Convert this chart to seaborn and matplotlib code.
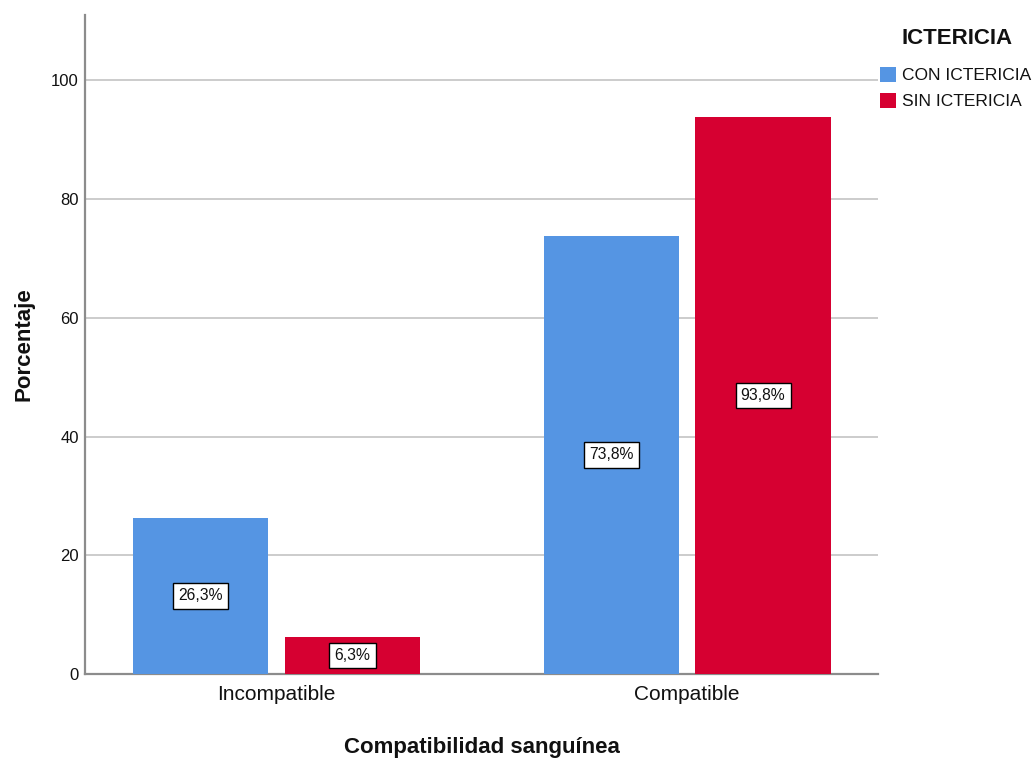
import matplotlib
matplotlib.use("Agg")
import matplotlib.pyplot as plt
import seaborn as sns
import pandas as pd

categories = ["Incompatible", "Compatible"]
groups = ["CON ICTERICIA", "SIN ICTERICIA"]
con_ictericia = [26.3, 73.8]
sin_ictericia = [6.3, 93.8]
label_con = ["26,3%", "73,8%"]
label_sin = ["6,3%", "93,8%"]
yticks = [0, 20, 40, 60, 80, 100]

df = pd.DataFrame({
    "Compatibilidad": categories * 2,
    "ICTERICIA": [groups[0]] * 2 + [groups[1]] * 2,
    "Porcentaje": con_ictericia + sin_ictericia,
})

sns.set_theme(style="white")
plt.rcParams["font.family"] = ["Liberation Sans", "DejaVu Sans"]
plt.rcParams["text.color"] = "#111111"
plt.rcParams["axes.labelcolor"] = "#111111"
plt.rcParams["xtick.color"] = "#111111"
plt.rcParams["ytick.color"] = "#111111"

fig = plt.figure(figsize=(10.35, 7.6), dpi=100)
ax = fig.add_axes([85 / 1035, 1 - 674 / 760, 793 / 1035, (674 - 15) / 760])

palette = {groups[0]: "#5595E3", groups[1]: "#D60031"}
sns.barplot(data=df, x="Compatibilidad", y="Porcentaje", hue="ICTERICIA",
            order=categories, hue_order=groups, palette=palette,
            width=0.74, gap=0.11, saturation=1, ax=ax, legend=True,
            edgecolor="none", linewidth=0, zorder=3)

for cont, labs in zip(ax.containers, [label_con, label_sin]):
    ax.bar_label(cont, labels=labs, label_type="center", fontsize=11.3,
                 bbox=dict(boxstyle="square,pad=0.33", fc="white", ec="black", lw=1),
                 zorder=5)

ax.set_ylim(0, 111)
ax.set_xlim(-0.4665, 1.465)
ax.set_yticks(yticks)
ax.set_yticklabels([str(v) for v in yticks], fontsize=12)
ax.tick_params(axis="y", length=0, pad=4.5)
ax.tick_params(axis="x", length=0, pad=8, labelsize=15)
ax.yaxis.grid(True, color="#C8C8C8", linewidth=1.3, zorder=0)
ax.set_axisbelow(True)
for s in ["top", "right"]:
    ax.spines[s].set_visible(False)
for s in ["left", "bottom"]:
    ax.spines[s].set_color("#8C8C8C")
    ax.spines[s].set_linewidth(1.6)

ax.set_xlabel("Compatibilidad sanguínea", fontsize=16, fontweight="bold", labelpad=24)
ax.set_ylabel("Porcentaje", fontsize=16, fontweight="bold", labelpad=12)

handles, labels = ax.get_legend_handles_labels()
ax.legend(handles, labels, loc="upper left",
          bbox_to_anchor=(880 / 1035, 1 - 67 / 760), bbox_transform=fig.transFigure,
          frameon=False, fontsize=12.5,
          handlelength=0.95, handleheight=0.95, handletextpad=0.3,
          labelspacing=0.55, borderaxespad=0, borderpad=0)
fig.text(957 / 1035, 1 - 38 / 760, "ICTERICIA", ha="center", va="center",
         fontsize=16, fontweight="bold")

fig.savefig("out.png", dpi=100)
